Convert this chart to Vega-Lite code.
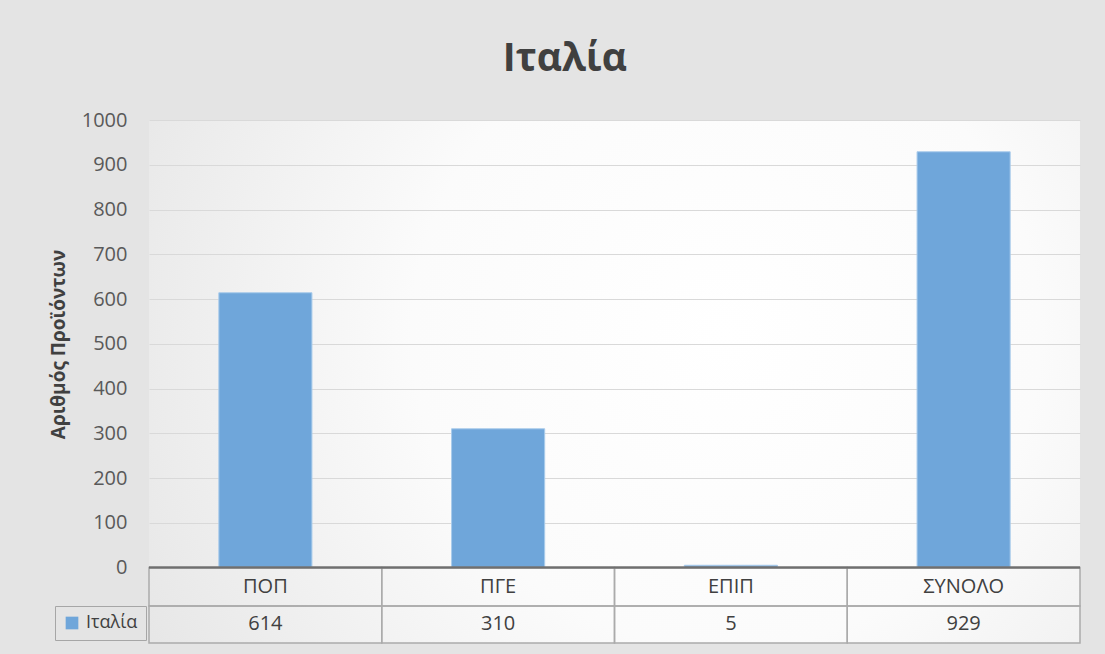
{
  "$schema": "https://vega.github.io/schema/vega-lite/v6.json",
  "autosize": {"type": "none"},
  "width": 931,
  "height": 523,
  "padding": {"left": 149, "top": 120, "right": 25, "bottom": 11},
  "background": "#e4e4e4",
  "config": {
    "font": "Open Sans",
    "view": {"stroke": null, "fill": {"gradient": "radial", "x1": 0.62, "y1": 0.45, "r1": 0, "x2": 0.62, "y2": 0.45, "r2": 0.75, "stops": [{"offset": 0, "color": "#ffffff"}, {"offset": 0.45, "color": "#fbfbfb"}, {"offset": 1, "color": "#e4e4e4"}]}}
  },
  "title": {"text": "Ιταλία", "fontSize": 39, "fontWeight": "bold", "color": "#404040", "anchor": "middle", "frame": "bounds", "baseline": "alphabetic", "offset": 0, "font": "Open Sans"},
  "data": {"values": [
    {"category": "ΠΟΠ", "value": 614, "series": "Ιταλία"},
    {"category": "ΠΓΕ", "value": 310, "series": "Ιταλία"},
    {"category": "ΕΠΙΠ", "value": 5, "series": "Ιταλία"},
    {"category": "ΣΥΝΟΛΟ", "value": 929, "series": "Ιταλία"}
  ]},
  "encoding": {
    "y": {"type": "quantitative", "scale": {"domain": [-168.7, 1000], "nice": false, "zero": false},
      "axis": {"values": [0, 100, 200, 300, 400, 500, 600, 700, 800, 900, 1000], "format": "d", "domain": false, "ticks": false, "labelFontSize": 20, "labelColor": "#595959", "labelPadding": 22, "gridColor": "#d9d9d9", "gridWidth": 1.2,
        "title": "Αριθμός Προϊόντων", "titleFontSize": 19, "titleFontWeight": "bold", "titleColor": "#404040", "titleX": -91, "titleY": 224, "titleAngle": -90, "titleAlign": "center", "titleBaseline": "middle"}}
  },
  "layer": [
    {
      "mark": {"type": "bar", "stroke": "#a9cbeb", "strokeWidth": 1},
      "encoding": {
        "x": {"field": "category", "type": "nominal", "sort": null, "scale": {"paddingInner": 0.6, "paddingOuter": 0.3}, "axis": null},
        "y": {"field": "value", "type": "quantitative"},
        "color": {"field": "series", "type": "nominal", "scale": {"range": ["#6fa6da"]},
          "legend": {"orient": "none", "legendX": -94, "legendY": 486, "title": null, "symbolType": "square", "symbolSize": 160, "symbolStrokeWidth": 0, "labelFontSize": 18, "labelColor": "#404040", "labelFont": "Open Sans", "strokeColor": "#a6a6a6", "padding": 8, "symbolOffset": 0, "labelOffset": 5}}
      }
    },
    {
      "mark": {"type": "rect", "fill": null, "stroke": "#ababab", "strokeWidth": 1.5},
      "encoding": {
        "x": {"field": "category", "type": "nominal", "sort": null, "scale": {"paddingInner": 0, "paddingOuter": 0}, "axis": null},
        "y": {"datum": 0},
        "y2": {"datum": -86}
      }
    },
    {
      "mark": {"type": "rect", "fill": null, "stroke": "#ababab", "strokeWidth": 1.5},
      "encoding": {
        "x": {"field": "category", "type": "nominal", "sort": null, "scale": {"paddingInner": 0, "paddingOuter": 0}, "axis": null},
        "y": {"datum": -86},
        "y2": {"datum": -168.7}
      }
    },
    {
      "mark": {"type": "rule", "color": "#6f6f6f", "strokeWidth": 1.5},
      "encoding": {"y": {"datum": 0}}
    },
    {
      "mark": {"type": "text", "fontSize": 20, "color": "#404040", "baseline": "middle"},
      "encoding": {
        "x": {"field": "category", "type": "nominal", "sort": null, "scale": {"paddingInner": 0, "paddingOuter": 0}, "axis": null},
        "y": {"datum": -43.6},
        "text": {"field": "category"}
      }
    },
    {
      "mark": {"type": "text", "fontSize": 20, "color": "#404040", "baseline": "middle"},
      "encoding": {
        "x": {"field": "category", "type": "nominal", "sort": null, "scale": {"paddingInner": 0, "paddingOuter": 0}, "axis": null},
        "y": {"datum": -127},
        "text": {"field": "value", "type": "quantitative"}
      }
    }
  ],
  "resolve": {"scale": {"x": "independent"}}
}
